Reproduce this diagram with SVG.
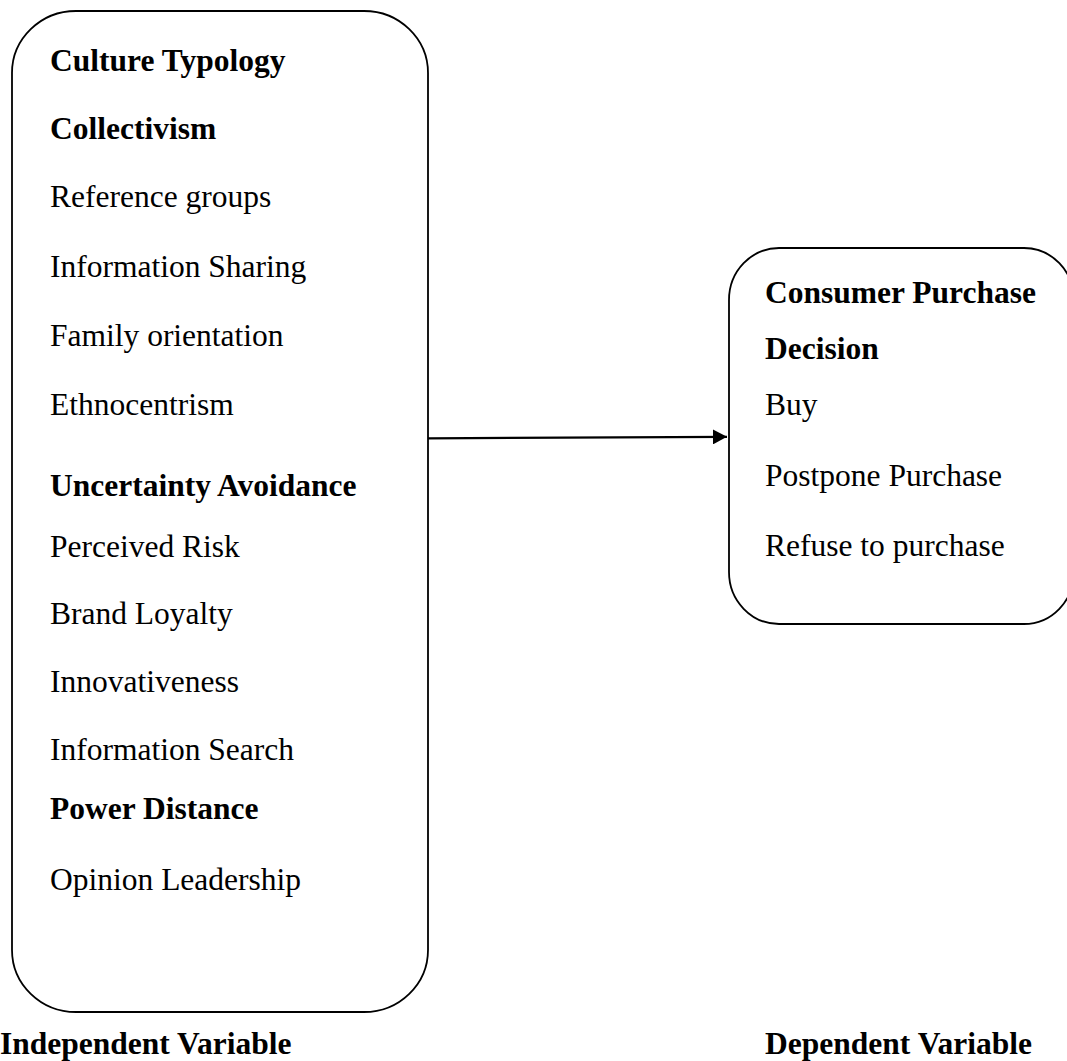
<svg xmlns="http://www.w3.org/2000/svg" width="1067" height="1061" viewBox="0 0 1067 1061">
<style>
.box{fill:#fff;stroke:#000;stroke-width:1.8}
text{font-family:"Liberation Serif","Times New Roman",serif;font-size:31.5px;fill:#000}
.b{font-weight:bold}
.conn{stroke:#000;stroke-width:2.2;fill:none}
</style>
<defs>
<marker id="arr" viewBox="0 0 14 15" refX="14" refY="7.5" markerWidth="14" markerHeight="15" markerUnits="userSpaceOnUse" orient="auto">
<path d="M0,0 L14,7.5 L0,15 Z" fill="#000"/>
</marker>
</defs>
<rect width="1067" height="1061" fill="#fff"/>
<g id="independent">
<rect class="box" x="12" y="11" width="416" height="1001" rx="64" ry="62"/>
<text x="50" y="71" class="b">Culture Typology</text>
<text x="50" y="139" class="b">Collectivism</text>
<text x="50" y="207">Reference groups</text>
<text x="50" y="277">Information Sharing</text>
<text x="50" y="346">Family orientation</text>
<text x="50" y="415">Ethnocentrism</text>
<text x="50" y="496" class="b">Uncertainty Avoidance</text>
<text x="50" y="557">Perceived Risk</text>
<text x="50" y="624">Brand Loyalty</text>
<text x="50" y="692">Innovativeness</text>
<text x="50" y="760">Information Search</text>
<text x="50" y="819" class="b">Power Distance</text>
<text x="50" y="890">Opinion Leadership</text>
</g>
<g id="dependent">
<rect class="box" x="729" y="248" width="345" height="376" rx="50" ry="52"/>
<text x="765" y="303" class="b">Consumer Purchase</text>
<text x="765" y="359" class="b">Decision</text>
<text x="765" y="415">Buy</text>
<text x="765" y="486">Postpone Purchase</text>
<text x="765" y="556">Refuse to purchase</text>
</g>
<g id="connectors">
<line class="conn" x1="428" y1="438.3" x2="727" y2="436.8" marker-end="url(#arr)"/>
</g>
<g id="labels">
<text x="0" y="1054" class="b">Independent Variable</text>
<text x="1032" y="1054" class="b" text-anchor="end">Dependent Variable</text>
</g>
</svg>
